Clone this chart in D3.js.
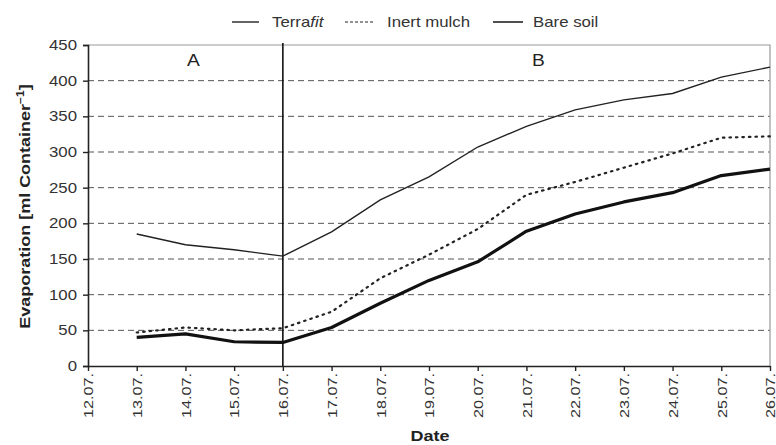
<!DOCTYPE html>
<html lang="en">
  <head>
    <meta charset="utf-8">
    <script src="https://cdn.jsdelivr.net/npm/d3@7/dist/d3.min.js"></script>
    <style>
      body { margin:0; background:#fff; }
      svg { font-family:'Liberation Sans', Arial, sans-serif; }
    </style>
  </head>
  <body>
    <svg class="chart"></svg>
  </body>
  <script>
    var dates = ['12.07.','13.07.','14.07.','15.07.','16.07.','17.07.','18.07.','19.07.',
                 '20.07.','21.07.','22.07.','23.07.','24.07.','25.07.','26.07.'];
    var dataDates = dates.slice(1);
    var terrafit    = [185,170,163,154,188,233,265,307,336,359,373,382,405,419];
    var inertMulch  = [47,54,50,53,76,123,156,192,240,258,278,298,320,322];
    var bareSoil    = [40,45,34,33,54,88,120,146,189,213,230,243,267,276];
    var yTicks = [0,50,100,150,200,250,300,350,400,450];
    var gridTicks = [50,100,150,200,250,300,350,400];
    var splitDate = '16.07.';

    var screenWidth = 776, screenHeight = 445;
    var margins = {top:45, bottom:79, left:88, right:6};
    var width = screenWidth - margins.left - margins.right;
    var height = screenHeight - margins.top - margins.bottom;
    var stretch = 1.2; // text in the picture is wider than it is tall

    var svg = d3.select('.chart')
                .attr('width', screenWidth)
                .attr('height', screenHeight);

    // put a text at x,y (optionally rotated) and widen it along its baseline
    var wide = function(sel, x, y, rot){
      return sel.attr('x',0).attr('y',0)
        .attr('transform','translate('+x+','+y+')'+(rot ? ' rotate('+rot+')' : '')+' scale('+stretch+',1)');
    };

    var xScale = d3.scalePoint().domain(dates).range([0, width]);
    var yScale = d3.scaleLinear().domain([0,450]).range([height, 0]);

    var plot = svg.append('g')
                  .attr('transform','translate('+margins.left+','+margins.top+')');

    // grid
    plot.selectAll('.grid').data(gridTicks).enter().append('line')
        .attr('x1',0).attr('x2',width)
        .attr('y1',function(d){return yScale(d)})
        .attr('y2',function(d){return yScale(d)})
        .attr('stroke','#555').attr('stroke-width',1)
        .attr('stroke-dasharray','6,4');

    // top and right border
    plot.append('path')
        .attr('d','M0,'+yScale(450)+'H'+width+'V'+height)
        .attr('fill','none').attr('stroke','#999').attr('stroke-width',1.2);

    // split line
    plot.append('line')
        .attr('x1',xScale(splitDate)).attr('x2',xScale(splitDate))
        .attr('y1',-2).attr('y2',height)
        .attr('stroke','#111').attr('stroke-width',1.6);

    wide(plot.append('text'),xScale(splitDate)/2+8,yScale(420))
        .attr('text-anchor','middle').attr('font-size',16).attr('fill','#222').text('A');
    wide(plot.append('text'),(xScale(splitDate)+width)/2+12,yScale(420))
        .attr('text-anchor','middle').attr('font-size',16).attr('fill','#222').text('B');

    // axes
    var yAxis = d3.axisLeft(yScale).tickValues(yTicks).tickSize(5).tickPadding(4);
    var yG = plot.append('g').call(yAxis);
    yG.select('.domain').attr('stroke','#222').attr('stroke-width',1.6);
    yG.selectAll('line').attr('stroke','#222').attr('stroke-width',1.4);
    yG.selectAll('text').attr('font-size',14).attr('fill','#333')
      .attr('font-family','Liberation Sans, Arial, sans-serif')
      .attr('x',0)
      .attr('transform','translate(-11,0) scale('+stretch+',1)');

    var xAxis = d3.axisBottom(xScale).tickSize(5).tickSizeOuter(0).tickPadding(4);
    var xG = plot.append('g').attr('transform','translate(0,'+height+')').call(xAxis);
    xG.select('.domain').attr('stroke','#222').attr('stroke-width',1.6);
    xG.selectAll('line').attr('stroke','#222').attr('stroke-width',1.4);
    xG.selectAll('text').attr('font-size',13.5).attr('fill','#333')
      .attr('font-family','Liberation Sans, Arial, sans-serif')
      .attr('transform','rotate(-90) translate(-7,0) scale('+stretch+',1)')
      .attr('text-anchor','end')
      .attr('x',0).attr('y',0).attr('dy','0.35em');

    // lines
    var line = function(vals){
      return d3.line()
        .x(function(d,i){return xScale(dataDates[i])})
        .y(function(d){return yScale(d)})(vals);
    };
    plot.append('path').attr('d',line(terrafit))
        .attr('fill','none').attr('stroke','#222').attr('stroke-width',1.4);
    plot.append('path').attr('d',line(inertMulch))
        .attr('fill','none').attr('stroke','#222').attr('stroke-width',2.2)
        .attr('stroke-dasharray','1.5,5').attr('stroke-linecap','round');
    plot.append('path').attr('d',line(bareSoil))
        .attr('fill','none').attr('stroke','#111').attr('stroke-width',3.2)
        .attr('stroke-linejoin','round');

    // axis titles
    wide(svg.append('text'),margins.left+xScale('19.07.')+1,441)
       .attr('text-anchor','middle').attr('font-size',15).attr('font-weight','bold')
       .attr('fill','#222').text('Date');
    var yt = wide(svg.append('text'),30,margins.top+height/2+1,-90)
       .attr('text-anchor','middle').attr('font-size',15).attr('font-weight','bold')
       .attr('fill','#222');
    yt.append('tspan').text('Evaporation [ml Container');
    yt.append('tspan').attr('dy',-6).attr('font-size',10).text('−1');
    yt.append('tspan').attr('dy',6).text(']');

    // legend
    var legend = svg.append('g').attr('transform','translate(0,22)');
    legend.append('line').attr('x1',232).attr('x2',259).attr('y1',0).attr('y2',0)
          .attr('stroke','#222').attr('stroke-width',1.4);
    var t1 = wide(legend.append('text'),272,5).attr('font-size',14).attr('fill','#333');
    t1.append('tspan').text('Terra');
    t1.append('tspan').attr('font-style','italic').text('fit');
    legend.append('line').attr('x1',345).attr('x2',373).attr('y1',0).attr('y2',0)
          .attr('stroke','#222').attr('stroke-width',1)
          .attr('stroke-dasharray','3,2');
    wide(legend.append('text'),387,5).attr('font-size',14).attr('fill','#333').text('Inert mulch');
    legend.append('line').attr('x1',493).attr('x2',523).attr('y1',0).attr('y2',0)
          .attr('stroke','#222').attr('stroke-width',1.6);
    wide(legend.append('text'),533,5).attr('font-size',14).attr('fill','#333').text('Bare soil');
  </script>
</html>
